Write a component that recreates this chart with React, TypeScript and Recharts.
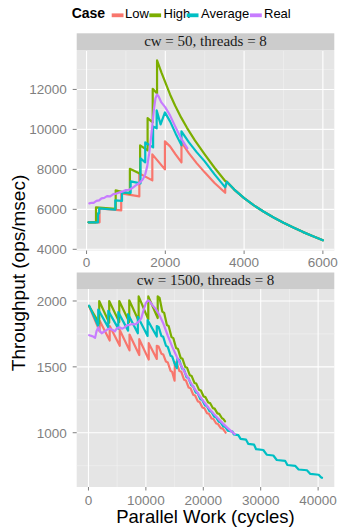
import React from "react";
import { LineChart, Line, XAxis, YAxis, CartesianGrid } from "recharts";

// ---------- labels ----------
const seriesNames = ["Low", "High", "Average", "Real"];
const seriesColors = ["#F8766D", "#7CAE00", "#00BFC4", "#C77CFF"];
const topStripLabel = "cw = 50, threads = 8";
const bottomStripLabel = "cw = 1500, threads = 8";
const xTitle = "Parallel Work (cycles)";
const yTitle = "Throughput (ops/msec)";

// ---------- top panel (cw = 50) ----------
const topXTicks = [0, 2000, 4000, 6000];
const topXMinor = [1000, 3000, 5000];
const topYTicks = [4000, 6000, 8000, 10000, 12000];
const topYMinor = [5000, 7000, 9000, 11000, 13000];

const topTail: [number, number][] = [
  [3560, 7380], [3750, 6990], [4000, 6560], [4250, 6200], [4500, 5880], [4750, 5590],
  [5000, 5330], [5250, 5090], [5500, 4860], [5750, 4650], [6000, 4450],
];

const topLow: [number, number][] = [
  [50, 5350], [330, 5350], [330, 6050], [880, 5950], [880, 6800], [1340, 6650], [1340, 7800],
  [1670, 7450], [1670, 8750], [1990, 8000], [1990, 9400], [2120, 9150], [2260, 8750], [2410, 8350],
  [2410, 9350], [2600, 8800], [2800, 8300], [3000, 7850], [3250, 7320], [3520, 6830], [3520, 7100],
  ...topTail,
];

const topHigh: [number, number][] = [
  [50, 5350], [240, 5350], [240, 6100], [740, 6030], [740, 6950], [1100, 6780], [1100, 8030],
  [1360, 7780], [1360, 9200], [1550, 8950], [1550, 10560], [1680, 10350], [1680, 12030],
  [1790, 11800], [1790, 13450], [1900, 12850], [2000, 12350], [2120, 11750], [2250, 11180],
  [2400, 10600], [2550, 10080], [2750, 9450], [3000, 8750], [3250, 8080], [3520, 7420],
  ...topTail,
];

const topAvg: [number, number][] = [
  [50, 5350], [290, 5350], [290, 5800], [320, 5800], [320, 6050], [730, 5980], [730, 6450],
  [900, 6420], [900, 6850], [1120, 6820], [1120, 7400], [1370, 7300], [1370, 8550], [1490, 8350],
  [1490, 9350], [1690, 9100], [1690, 10150], [1780, 10050], [1780, 10950], [1880, 10250],
  [1990, 10850], [2120, 10400], [2260, 9800], [2410, 9200], [2410, 9900], [2600, 9350],
  [2800, 8850], [3000, 8400], [3250, 7750], [3520, 7100],
  ...topTail,
];

const topReal: [number, number][] = [
  [70, 6300], [130, 6330], [180, 6320], [250, 6420], [320, 6450], [380, 6550], [450, 6570],
  [520, 6660], [600, 6650], [680, 6760], [760, 6790], [840, 6850], [920, 6900], [1000, 6960],
  [1080, 6980], [1150, 7050], [1250, 7200], [1350, 7330], [1430, 7500], [1490, 7750],
  [1540, 8150], [1590, 8800], [1630, 9450], [1670, 10200], [1710, 11000], [1750, 11550],
  [1790, 11750], [1830, 11650], [1900, 11350], [2000, 11100], [2120, 10700], [2250, 10150],
  [2400, 9550], [2560, 9050],
];

// ---------- bottom panel (cw = 1500) ----------
const botXTicks = [0, 10000, 20000, 30000, 40000];
const botXMinor = [5000, 15000, 25000, 35000];
const botYTicks = [1000, 1500, 2000];
const botYMinor = [750, 1250, 1750];

const botLow: [number, number][] = [
  [120, 1960], [1950, 1770], [1950, 1850], [3700, 1700], [3700, 1810], [5450, 1660], [5450, 1780],
  [7150, 1625], [7150, 1745], [8850, 1590], [8850, 1710], [10500, 1555], [10500, 1680],
  [11900, 1560], [11900, 1660], [12220, 1654], [12700, 1600], [13020, 1594], [13500, 1540],
  [13820, 1533], [14300, 1470], [14580, 1462], [15000, 1395], [15050, 1535], [15370, 1528],
  [15850, 1468], [16170, 1462], [16650, 1403], [16970, 1397], [17450, 1343], [17770, 1338],
  [18250, 1288], [18570, 1283], [19050, 1238], [19370, 1233], [19850, 1191], [20170, 1187],
  [20650, 1148], [20970, 1144], [21450, 1108], [21770, 1104], [22250, 1070], [22570, 1066],
  [23050, 1035], [23390, 1031], [23900, 1000],
];

const botHigh: [number, number][] = [
  [120, 1960], [1870, 1830], [1870, 2000], [3610, 1835], [3610, 2000], [5360, 1840], [5360, 2000],
  [7100, 1840], [7100, 2005], [8740, 1850], [8740, 2035], [10420, 1860], [10420, 2035],
  [12060, 1870], [12060, 2035], [12380, 2024], [12860, 1920], [13180, 1910], [13660, 1818],
  [13980, 1809], [14460, 1726], [14780, 1718], [15260, 1643], [15580, 1636], [16060, 1568],
  [16380, 1561], [16860, 1499], [17180, 1493], [17660, 1436], [17980, 1430], [18460, 1378],
  [18780, 1373], [19260, 1325], [19580, 1320], [20060, 1275], [20380, 1270], [20860, 1229],
  [21180, 1225], [21660, 1187], [21980, 1183], [22460, 1147], [22780, 1143], [23260, 1110],
  [23480, 1105], [23800, 1086],
];

const botAvg: [number, number][] = [
  [120, 1965], [1700, 1810], [1700, 1935], [3450, 1800], [3450, 1925], [5200, 1790], [5200, 1915],
  [6900, 1775], [6900, 1900], [8600, 1755], [8600, 1880], [10300, 1735], [10300, 1855],
  [11900, 1730], [11900, 1810], [12220, 1803], [12700, 1735], [13020, 1728], [13500, 1660],
  [13820, 1652], [14300, 1585], [14580, 1579], [15000, 1525], [15400, 1490], [15480, 1560],
  [15810, 1553], [16300, 1487], [16620, 1480], [17100, 1421], [17420, 1415], [17900, 1361],
  [18220, 1355], [18700, 1305], [19020, 1300], [19500, 1254], [19820, 1249], [20300, 1207],
  [20620, 1203], [21100, 1163], [21420, 1159], [21900, 1122], [22220, 1118], [22700, 1083],
  [23020, 1079], [23500, 1047], [23820, 1044], [24300, 1015], [25100, 1008], [25300, 988],
  [26100, 982], [26500, 953], [27450, 947], [27850, 915], [28850, 909], [29200, 875],
  [30450, 869], [31050, 833], [32200, 827], [32800, 793], [34250, 787], [34650, 755],
  [36000, 749], [36600, 721], [38050, 715], [38650, 687], [40100, 681], [40500, 662],
  [40680, 658],
];

const botReal: [number, number][] = [
  [120, 1740], [500, 1735], [820, 1730], [1150, 1720], [1400, 1770], [1700, 1800], [2000, 1770],
  [2300, 1755], [2850, 1770], [3300, 1785], [3700, 1790], [4200, 1780], [4600, 1770],
  [5000, 1795], [5400, 1800], [5900, 1790], [6300, 1800], [6700, 1815], [7200, 1820],
  [7600, 1825], [8000, 1822], [8400, 1830], [8800, 1845], [9200, 1870], [9600, 1930],
  [10000, 1985], [10400, 2005], [10700, 1995], [11200, 1965], [11800, 1935], [12400, 1890],
  [13000, 1833], [13800, 1738], [14600, 1652], [15400, 1575], [16200, 1504], [17000, 1440],
  [17800, 1381], [18600, 1327], [19400, 1277], [20200, 1229], [21000, 1185], [21800, 1145],
  [22600, 1107], [23400, 1071], [24200, 1038], [25000, 1006], [25500, 989],
];

// ---------- helpers ----------
const FONT = '"Liberation Sans", Arial, Helvetica, sans-serif';
const SERIF = '"Liberation Serif", "Times New Roman", serif';
const toPts = (arr: [number, number][]) => arr.map(([x, y]) => ({ x, y }));

type PanelProps = {
  top: number;
  height: number;
  axisHeight: number;
  xDomain: [number, number];
  yDomain: [number, number];
  xTicks: number[];
  xMinor: number[];
  yTicks: number[];
  yMinor: number[];
  xTickMargin: number;
  series: [number, number][][];
};

const Panel = ({ top, height, axisHeight, xDomain, yDomain, xTicks, xMinor, yTicks, yMinor, xTickMargin, series }: PanelProps) => (
  <div style={{ position: "absolute", left: 0, top, width: 344, height }}>
    <LineChart width={344} height={height} margin={{ top: 0, right: 9.7, bottom: 0, left: 0 }}>
      <CartesianGrid
        fill="#E5E5E5"
        stroke="#F2F2F2"
        strokeWidth={0.6}
        horizontalValues={yMinor}
        verticalValues={xMinor}
      />
      <CartesianGrid
        stroke="#FFFFFF"
        strokeWidth={1.1}
        horizontalValues={yTicks}
        verticalValues={xTicks}
      />
      <XAxis
        type="number"
        dataKey="x"
        domain={xDomain}
        ticks={xTicks}
        interval={0}
        allowDataOverflow
        axisLine={false}
        tickLine={{ stroke: "#7F7F7F" }}
        tickSize={3.5}
        tickMargin={xTickMargin}
        height={axisHeight}
        tick={{ fill: "#7F7F7F", fontSize: 13.5, fontFamily: FONT }}
      />
      <YAxis
        type="number"
        dataKey="y"
        domain={yDomain}
        ticks={yTicks}
        interval={0}
        allowDataOverflow
        axisLine={false}
        tickLine={{ stroke: "#7F7F7F" }}
        tickSize={4}
        tickMargin={6}
        width={76.7}
        tick={{ fill: "#7F7F7F", fontSize: 13.5, fontFamily: FONT }}
      />
      {series.map((s, i) => (
        <Line
          key={seriesNames[i]}
          data={toPts(s)}
          dataKey="y"
          type="linear"
          stroke={seriesColors[i]}
          strokeWidth={2.2}
          strokeLinejoin="round"
          strokeLinecap="round"
          dot={false}
          activeDot={false}
          isAnimationActive={false}
        />
      ))}
    </LineChart>
  </div>
);

const legendSwatchX = [111.7, 149.3, 186.7, 250];
const legendTextX = [125, 163.5, 201, 264];

export default function App() {
  return (
    <div style={{ position: "absolute", left: 0, top: 0, width: 344, height: 528, background: "#FFFFFF" }}>
      <svg width={344} height={528} style={{ position: "absolute", left: 0, top: 0 }}>
        {/* legend */}
        <text x={71.7} y={18.3} fontFamily={FONT} fontWeight="bold" fontSize={14} fill="#000">Case</text>
        {seriesNames.map((n, i) => (
          <g key={n}>
            <rect x={legendSwatchX[i]} y={13.4} width={11.8} height={3.8} fill={seriesColors[i]} />
            <text x={legendTextX[i]} y={18.3} fontFamily={FONT} fontSize={13} fill="#000">{n}</text>
          </g>
        ))}
        {/* strips */}
        <rect x={76.7} y={33.3} width={257.6} height={17.2} fill="#CCCCCC" />
        <text x={205.5} y={46} textAnchor="middle" fontFamily={SERIF} fontSize={15} fill="#1A1A1A">{topStripLabel}</text>
        <rect x={76.7} y={272.5} width={257.6} height={16.5} fill="#CCCCCC" />
        <text x={205.5} y={285.3} textAnchor="middle" fontFamily={SERIF} fontSize={15} fill="#1A1A1A">{bottomStripLabel}</text>
        {/* axis titles */}
        <text x={205.5} y={523} textAnchor="middle" fontFamily={FONT} fontSize={18.5} fill="#000">{xTitle}</text>
        <text transform="translate(25,273) rotate(-90)" textAnchor="middle" fontFamily={FONT} fontSize={19} fill="#000">{yTitle}</text>
      </svg>
      <Panel
        top={50.5}
        height={219.5}
        axisHeight={20}
        xDomain={[-250, 6290]}
        yDomain={[3940, 13923]}
        xTicks={topXTicks}
        xMinor={topXMinor}
        yTicks={topYTicks}
        yMinor={topYMinor}
        xTickMargin={3.5}
        series={[topLow, topHigh, topAvg, topReal]}
      />
      <Panel
        top={289}
        height={222}
        axisHeight={24}
        xDomain={[-2050, 42820]}
        yDomain={[588, 2091]}
        xTicks={botXTicks}
        xMinor={botXMinor}
        yTicks={botYTicks}
        yMinor={botYMinor}
        xTickMargin={5}
        series={[botLow, botHigh, botAvg, botReal]}
      />
    </div>
  );
}
